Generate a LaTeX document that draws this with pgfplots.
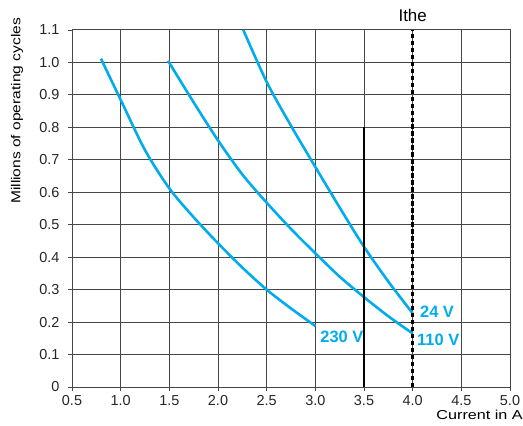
\documentclass[border=0pt]{standalone}
\usepackage{pgfplots}
\pgfplotsset{compat=1.18}
\usepackage{fontspec}
\setmainfont{Liberation Sans}
\definecolor{cyanc}{RGB}{0,172,236}
\definecolor{gridc}{RGB}{70,70,70}
\begin{document}
\begin{tikzpicture}
\begin{axis}[
  at={(0,0)}, anchor=south west,
  scale only axis, width=438bp, height=357bp,
  xmin=0.5, xmax=5.0, ymin=0, ymax=1.1,
  xtick={0.5,1.0,1.5,2.0,2.5,3.0,3.5,4.0,4.5,5.0},
  xticklabels={0.5,1.0,1.5,2.0,2.5,3.0,3.5,4.0,4.5,5.0},
  ytick={0,0.1,0.2,0.3,0.4,0.5,0.6,0.7,0.8,0.9,1.0,1.1},
  yticklabels={0,0.1,0.2,0.3,0.4,0.5,0.6,0.7,0.8,0.9,1.0,1.1},
  grid=major,
  grid style={gridc, line width=1pt},
  axis line style={gridc, line width=1pt},
  tick align=outside,
  major tick length=4bp,
  tick style={gridc, line width=0.9pt},
  xtick pos=bottom, ytick pos=left,
  ticklabel style={font=\fontsize{14.5}{16}\selectfont, text=black!85},
  yticklabel style={xshift=-5bp},
  xticklabel style={yshift=-1bp},
  xlabel={\scalebox{1.25}[1]{Current in A}},
  xlabel style={at={(axis description cs:1,0)}, anchor=north east, xshift=13bp, yshift=-23bp, font=\fontsize{13}{14}\selectfont, inner sep=0pt},
  ylabel={\scalebox{1.2}[1]{Millions of operating cycles}},
  ylabel style={at={(axis description cs:-0.1256,1.034)}, anchor=east, font=\fontsize{13}{14}\selectfont, inner sep=0pt},
  clip=false,
]
% 230 V
\addplot[cyanc, line width=2.6pt, smooth, tension=0.5] coordinates {
 (0.797,1.012) (1.0,0.885) (1.25,0.73) (1.5,0.612) (1.75,0.523) (2.0,0.443) (2.25,0.368) (2.5,0.30) (2.75,0.242) (3.0,0.188)};
% 110 V
\addplot[cyanc, line width=2.6pt, smooth, tension=0.5] coordinates {
 (1.487,1.005) (1.75,0.877) (2.0,0.76) (2.25,0.655) (2.5,0.568) (2.75,0.487) (3.0,0.412) (3.25,0.34) (3.5,0.277) (3.75,0.218) (4.0,0.165)};
% 24 V
\addplot[cyanc, line width=2.6pt, smooth, tension=0.5] coordinates {
 (2.26,1.1) (2.5,0.94) (2.75,0.805) (3.0,0.678) (3.25,0.553) (3.5,0.432) (3.75,0.325) (4.0,0.227)};
% black line at 3.5
\addplot[black, line width=1.8pt] coordinates {(3.5,0) (3.5,0.8)};
% dashed Ithe line
\addplot[black, line width=2.4pt, dash pattern=on 4.5pt off 2.5pt] coordinates {(4.0,0) (4.0,1.1)};
\node[anchor=south, font=\fontsize{17}{19}\selectfont, inner sep=0pt, yshift=8bp] at (axis cs:4.0,1.1) {Ithe};
\node[anchor=west, font=\fontsize{16.5}{18}\selectfont\bfseries, text=cyanc, inner sep=0pt] at (axis cs:4.075,0.231) {24 V};
\node[anchor=west, font=\fontsize{16.5}{18}\selectfont\bfseries, text=cyanc, inner sep=0pt] at (axis cs:4.045,0.145) {110 V};
\node[anchor=west, font=\fontsize{16.5}{18}\selectfont\bfseries, text=cyanc, inner sep=0pt] at (axis cs:3.05,0.155) {230 V};
\end{axis}
\pgfresetboundingbox
\path (-72bp,-39bp) rectangle (451bp,387bp);
\end{tikzpicture}
\end{document}
